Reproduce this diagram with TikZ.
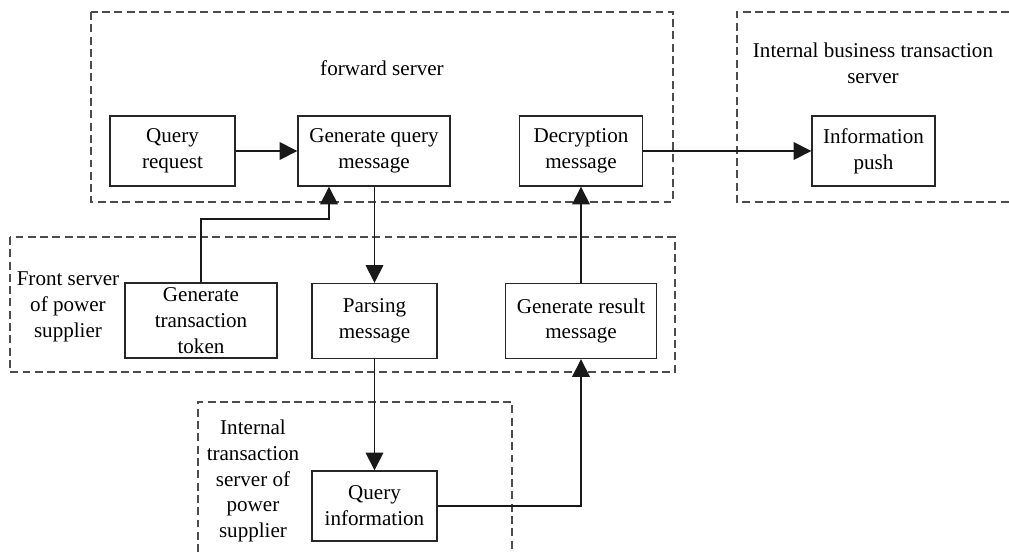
\documentclass[tikz,border=0pt]{standalone}
\usepackage{fontspec}
\setmainfont{Liberation Serif}
\usetikzlibrary{arrows.meta,positioning}

\begin{document}
\begin{tikzpicture}
[
	              x = 0.02cm,
	              y = -0.02cm,
	            >= {Triangle[length=10pt,width=10pt]},
	     font = \fontsize{12pt}{14.7pt}\selectfont,
	  block/.style = { draw=black!85, line width=0.8pt, align=center, minimum height=1.4cm, inner sep=1pt },
	 region/.style = { draw=black!70, line width=0.7pt, dash pattern=on 4.5pt off 2.5pt },
	  title/.style = { align=center, inner sep=0pt },
	   flow/.style = { ->, draw=black!90, line width=0.8pt }
]
	\useasboundingbox (0,0) rectangle (1009,552);

	% regions
	\draw [region] (91,12) rectangle (673,202);
	\draw [region] (1009,12) -- (737,12) -- (737,202) -- (1009,202);
	\draw [region] (10,237) rectangle (675,372);
	\draw [region] (198,552) -- (198,402) -- (512,402) -- (512,552);

	% region labels
	\node (Lfwd)   at (382,68)  [title] {forward server};
	\node (Lbiz)   at (873,63)  [title] {Internal business transaction\\server};
	\node (Lfront) at (68,307)  [title] {Front server\\of power\\supplier};
	\node (Lint)   at (253,481) [title] {Internal\\transaction\\server of\\power\\supplier};

	% nodes
	\node (QR) at (172.5,151) [block, minimum width=2.5cm]  {Query\\request};
	\node (GQ) at (374,151)   [block, minimum width=3.04cm] {Generate query\\message};
	\node (DM) at (581,151)   [block, minimum width=2.46cm] {Decryption\\message};
	\node (IP) at (873.5,151) [block, minimum width=2.46cm] {Information\\push};
	\node (GT) at (201,320.5) [block, minimum width=3.04cm, minimum height=1.5cm] {Generate\\transaction\\token};
	\node (PM) at (374.5,321) [block, minimum width=2.5cm, minimum height=1.5cm]  {Parsing\\message};
	\node (GR) at (581,321)   [block, minimum width=3.02cm, minimum height=1.5cm] {Generate result\\message};
	\node (QI) at (374.5,506) [block, minimum width=2.5cm]  {Query\\information};
	\coordinate (fb) at (329,219);

	% edges
	\draw [flow] (QR) -- (GQ);
	\draw [flow] (GQ.south -| PM.north) -- (PM.north);
	\draw [flow] (GT.north) |- (fb) -- (fb |- GQ.south);
	\draw [flow] (PM.south) -- (QI.north);
	\draw [flow] (QI.east) -| (GR.south);
	\draw [flow] (GR.north) -- (DM.south);
	\draw [flow] (DM) -- (IP);
\end{tikzpicture}
\end{document}
